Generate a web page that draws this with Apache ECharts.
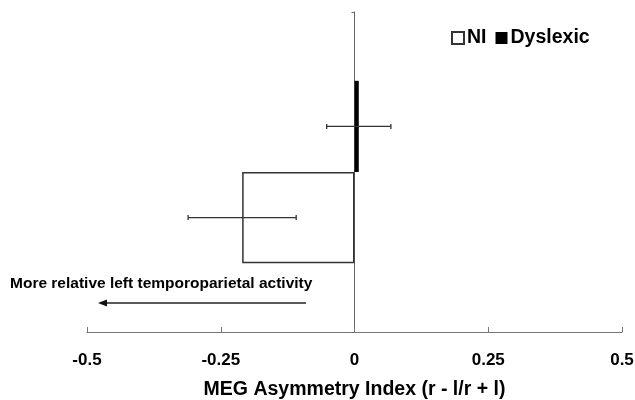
<!DOCTYPE html>
<html>
<head>
<meta charset="utf-8">
<script src="https://cdn.jsdelivr.net/npm/echarts@6/dist/echarts.min.js"></script>
<style>
html, body { margin: 0; padding: 0; background: #fff; }
#chart { width: 635px; height: 400px; }
</style>
</head>
<body>
<div id="chart"></div>
<script>
var groups = ['NI', 'Dyslexic'];
var means = [-0.21, 0.008];
var errLow = [-0.311, -0.052];
var errHigh = [-0.109, 0.068];
var category = ['MEG'];
var xMin = -0.5, xMax = 0.5, xStep = 0.25;

var FONT = '"Liberation Sans", Arial, Helvetica, sans-serif';
var CAT_GAP = 0.43; // share of the band left empty
// NI sits below Dyslexic in the band
var barSide = [1, -1];

var errData = [];
for (var i = 0; i < groups.length; i++) {
	errData.push([errLow[i], errHigh[i], 0, i]);
}

function renderErr(params, api) {
	var lo = api.coord([api.value(0), api.value(2)]);
	var hi = api.coord([api.value(1), api.value(2)]);
	var band = api.size([0, 1])[1];
	var y = lo[1] + barSide[api.value(3)] * band * (1 - CAT_GAP) / 4;
	var cap = 2.5;
	var st = { stroke: '#333', lineWidth: 1.3 };
	return {
		type: 'group',
		children: [
			{ type: 'line', shape: { x1: lo[0], y1: y, x2: hi[0], y2: y }, style: st },
			{ type: 'line', shape: { x1: lo[0], y1: y - cap, x2: lo[0], y2: y + cap }, style: st },
			{ type: 'line', shape: { x1: hi[0], y1: y - cap, x2: hi[0], y2: y + cap }, style: st }
		]
	};
}

var chart = echarts.init(document.getElementById('chart'));
var option = {
	animation: false,
	backgroundColor: '#fff',
	textStyle: { fontFamily: FONT },
	grid: { left: 87, right: 13, top: 12, bottom: 68, containLabel: false, outerBoundsMode: 'none' },
	legend: {
		data: groups,
		icon: 'rect',
		itemWidth: 12,
		itemHeight: 12,
		itemGap: 9,
		padding: 0,
		left: 451,
		top: 28,
		textStyle: { fontFamily: FONT, fontWeight: 'bold', fontSize: 19.5, color: '#000', padding: [0, 0, 0, -2] }
	},
	xAxis: {
		type: 'value',
		min: xMin,
		max: xMax,
		interval: xStep,
		axisLine: { show: true, onZero: false, lineStyle: { color: '#777', width: 1 } },
		axisTick: { show: true, inside: true, length: 5, lineStyle: { color: '#777' } },
		axisLabel: { fontFamily: FONT, fontWeight: 'bold', fontSize: 17, color: '#000', margin: 20 },
		splitLine: { show: false },
		name: 'MEG Asymmetry Index (r - l/r + l)',
		nameLocation: 'middle',
		nameGap: 48,
		nameTextStyle: { fontFamily: FONT, fontWeight: 'bold', fontSize: 19.5, color: '#000' }
	},
	yAxis: {
		type: 'category',
		data: category,
		axisLine: { onZero: true, lineStyle: { color: '#666', width: 1 } },
		axisTick: { show: true, length: 3, lineStyle: { color: '#666' } },
		axisLabel: { show: false },
		splitLine: { show: false }
	},
	series: [
		{
			name: groups[1],
			type: 'bar',
			data: [means[1]],
			barGap: '0%',
			barCategoryGap: (CAT_GAP * 100) + '%',
			itemStyle: { color: '#000', borderColor: '#000', borderWidth: 0 }
		},
		{
			name: groups[0],
			type: 'bar',
			data: [means[0]],
			barGap: '0%',
			barCategoryGap: (CAT_GAP * 100) + '%',
			itemStyle: { color: '#fff', borderColor: '#333', borderWidth: 1.5 }
		},
		{
			name: 'err',
			type: 'custom',
			renderItem: renderErr,
			encode: { x: [0, 1], y: 2 },
			data: errData,
			clip: false,
			z: 5
		}
	],
	graphic: [
		{
			type: 'text',
			left: 10,
			top: 276,
			style: { text: 'More relative left temporoparietal activity', fontFamily: FONT, fontWeight: 'bold', fontSize: 15.5, fill: '#000' }
		},
		{
			type: 'line',
			shape: { x1: 306, y1: 303, x2: 104, y2: 303 },
			style: { stroke: '#222', lineWidth: 1.3 }
		},
		{
			type: 'polygon',
			shape: { points: [[98, 303], [107, 299.5], [107, 306.5]] },
			style: { fill: '#111' }
		}
	]
};
chart.setOption(option);
</script>
</body>
</html>
